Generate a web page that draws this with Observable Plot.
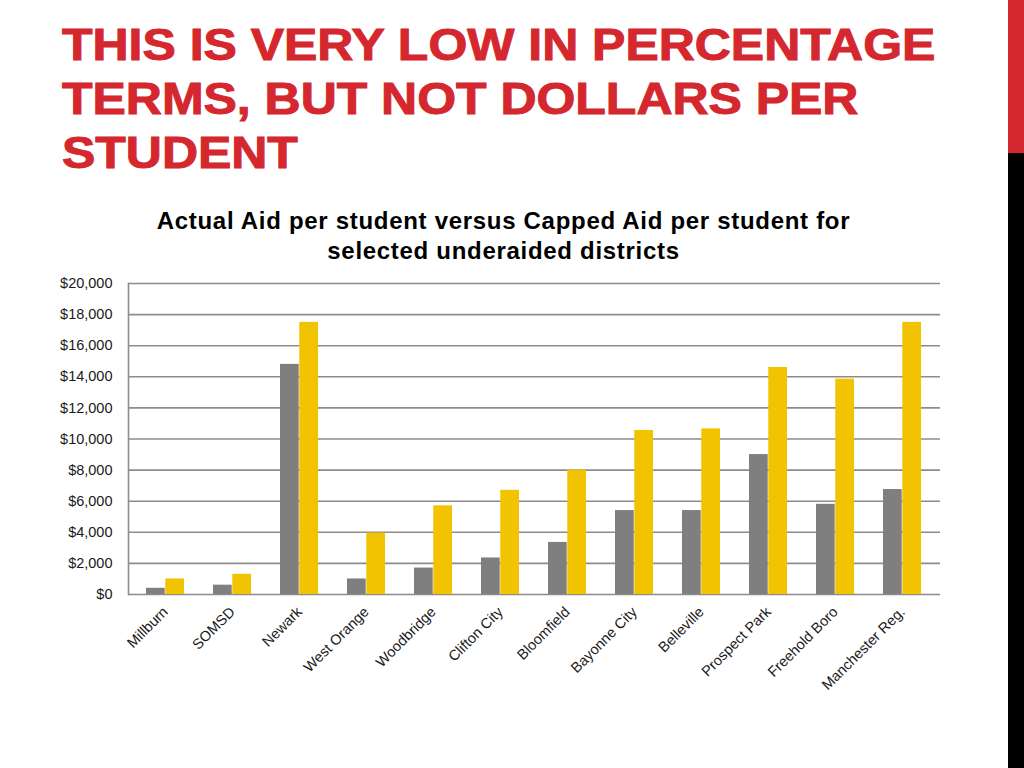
<!DOCTYPE html>
<html><head><meta charset="utf-8">
<script src="https://cdn.jsdelivr.net/npm/d3@7"></script>
<script src="https://cdn.jsdelivr.net/npm/@observablehq/plot@0.6"></script>
<style>
body{margin:0;width:1024px;height:768px;position:relative;background:#fff;overflow:hidden;font-family:"Liberation Sans",Arial,sans-serif}
#title{position:absolute;left:62px;top:18px;color:#d4272e;font-weight:bold;font-size:45px;line-height:54px;white-space:nowrap;transform:scaleX(1.11);transform-origin:0 0;-webkit-text-stroke:1px #d4272e;paint-order:stroke fill}
#barRed{position:absolute;left:1008px;top:0;width:16px;height:153px;background:#d4272e}
#barBlack{position:absolute;left:1008px;top:153px;width:16px;height:615px;background:#000}
#sub{position:absolute;left:0;width:1007px;top:206px;text-align:center;font-weight:bold;font-size:24px;line-height:30px;letter-spacing:0.7px;color:#000}
#chart{position:absolute;left:0;top:270px}
</style></head>
<body>
<div id="title">THIS IS VERY LOW IN PERCENTAGE<br>TERMS, BUT NOT DOLLARS PER<br>STUDENT</div>
<div id="barRed"></div><div id="barBlack"></div>
<div id="sub">Actual Aid per student versus Capped Aid per student for<br>selected underaided districts</div>
<div id="chart"></div>
<script>
const districts = ["Millburn","SOMSD","Newark","West Orange","Woodbridge","Clifton City","Bloomfield","Bayonne City","Belleville","Prospect Park","Freehold Boro","Manchester Reg."];
const actualAid = [400, 600, 14800, 1000, 1700, 2350, 3350, 5400, 5400, 9000, 5800, 6750];
const cappedAid = [1000, 1300, 17500, 3950, 5700, 6700, 8000, 10550, 10650, 14600, 13850, 17500];
const yTicks = [0, 2000, 4000, 6000, 8000, 10000, 12000, 14000, 16000, 18000, 20000];

const rows = districts.map((d, i) => ({district: d, actual: actualAid[i], capped: cappedAid[i]}));

const W = 960, mL = 128, mR = 20;
const pInner = 0.43, pOuter = 0.215;
const step = (W - mL - mR) / (districts.length - pInner + 2 * pOuter);
const half = step * (1 - pInner) / 2;

const chart = Plot.plot({
  width: W, height: 440,
  marginLeft: mL, marginRight: mR, marginTop: 13, marginBottom: 116,
  x: {domain: districts, paddingInner: pInner, paddingOuter: pOuter, label: null, tickSize: 0, tickPadding: 15, tickRotate: -45},
  y: {domain: [0, 20000], ticks: yTicks, tickFormat: d => "$" + d3.format(",")(d), tickSize: 0, tickPadding: 16, label: null},
  style: {fontFamily: "'Liberation Sans', Arial, sans-serif", fontSize: "14.5px", color: "#1a1a1a", background: "transparent"},
  marks: [
    Plot.ruleY(yTicks, {stroke: "#8c8c8c", strokeWidth: 1.6}),
    Plot.frame({anchor: "left", stroke: "#8c8c8c", strokeWidth: 1.6}),
    Plot.barY(rows, {x: "district", y: "actual", fill: "#7f7f7f", insetLeft: 0, insetRight: half}),
    Plot.barY(rows, {x: "district", y: "capped", fill: "#f2c300", insetLeft: half, insetRight: 0})
  ]
});
document.getElementById("chart").appendChild(chart);
</script>
</body></html>
